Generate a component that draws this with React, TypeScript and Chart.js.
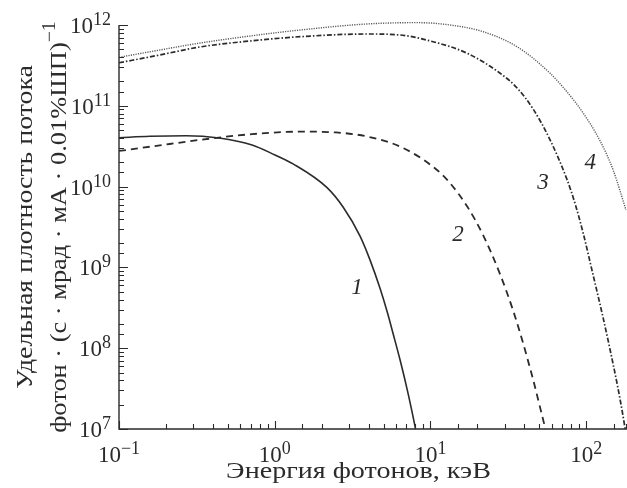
import { useEffect, useRef } from "react";
import { Chart, registerables } from "chart.js";

Chart.register(...registerables);

// Curve 1 (solid)
const energy1 = [0.1, 0.158, 0.27, 0.439, 0.715, 1.004, 1.311, 2.167, 2.746, 3.53, 4.094, 4.747, 5.265, 5.75, 6.38, 7.075, 7.62, 8.02];
const flux1 = [4.03e10, 4.19e10, 4.26e10, 3.99e10, 3.27e10, 2.46e10, 1.91e10, 9.7e9, 5.58e9, 2.44e9, 1.23e9, 5.47e8, 2.84e8, 1.52e8, 7.13e7, 3.12e7, 1.62e7, 1.0e7];

// Curve 2 (dashed)
const energy2 = [0.1, 0.163, 0.378, 0.715, 1.497, 2.476, 4.035, 6.57, 10.86, 13.37, 17.18, 21.77, 27.99, 33.93, 39.33, 45.6, 50.57, 54.7];
const flux2 = [2.76e10, 3.14e10, 3.91e10, 4.46e10, 4.79e10, 4.68e10, 4.12e10, 3.05e10, 1.64e10, 1.1e10, 5.7e9, 2.51e9, 8.2e8, 2.92e8, 1.15e8, 4.08e7, 1.84e7, 1.0e7];

// Curve 3 (dash-dot)
const energy3 = [0.1, 0.1834, 0.3313, 0.694, 1.454, 3.915, 6.38, 10.39, 17.18, 27.99, 35.99, 45.6, 58.65, 75.4, 84.9, 95.5, 110.7, 128.4, 142.4, 157.9, 170.1, 177.8];
const flux3 = [3.41e11, 4.26e11, 5.35e11, 6.34e11, 7.16e11, 7.74e11, 7.52e11, 6.21e11, 4.47e11, 2.53e11, 1.66e11, 9.12e10, 3.77e10, 1.21e10, 6.1e9, 2.67e9, 8.05e8, 2.37e8, 9.5e7, 3.61e7, 1.67e7, 1.0e7];

// Curve 4 (dotted)
const energy4 = [0.1, 0.1834, 0.3313, 0.694, 1.454, 3.915, 8.2, 13.37, 21.77, 35.99, 58.65, 75.4, 95.5, 122.8, 148.9, 180];
const flux4 = [3.98e11, 4.91e11, 5.98e11, 7.31e11, 8.67e11, 1.03e12, 1.07e12, 1.0e12, 8.26e11, 5.38e11, 2.52e11, 1.48e11, 8.15e10, 3.67e10, 1.6e10, 5.13e9];

// Curve number labels (data coordinates)
const curveLabels = ["1", "2", "3", "4"];
const curveLabelE = [3.38, 15.0, 52.8, 106];
const curveLabelF = [5.6e8, 2.5e9, 1.1e10, 1.95e10];

// Axis tick labels (powers of ten)
const xTickExponents = ["−1", "0", "1", "2"];
const xTickValues = [0.1, 1, 10, 100];
const yTickExponents = ["7", "8", "9", "10", "11", "12"];
const yTickValues = [1e7, 1e8, 1e9, 1e10, 1e11, 1e12];

const xTitle = "Энергия фотонов, кэВ";
const yTitleLine1 = "Удельная плотность потока";
const yTitleLine2 = "фотон · (с · мрад · мА · 0.01%ШП)";
const yTitleExp = "−1";

const X_MIN = 0.1;
const X_MAX = 180;
const Y_MIN = 1e7;
const Y_MAX = 1e12;

const SERIF = "'Liberation Serif', 'DejaVu Serif', serif";
const INK = "#2b2b2b";

function isPow10(v: number) {
  const l = Math.log10(v);
  return Math.abs(l - Math.round(l)) < 1e-6;
}

const drawPlugin = {
  id: "customAxes",
  beforeDraw(chart: any) {
    const { ctx, width, height } = chart;
    ctx.save();
    ctx.fillStyle = "#ffffff";
    ctx.fillRect(0, 0, width, height);
    ctx.restore();
  },
  afterDraw(chart: any) {
    const { ctx, chartArea: ca } = chart;
    const xs = chart.scales.x;
    const ys = chart.scales.y;
    ctx.save();
    ctx.strokeStyle = INK;
    ctx.lineWidth = 1.4;
    ctx.beginPath();
    ctx.moveTo(ca.left, ca.top);
    ctx.lineTo(ca.left, ca.bottom);
    ctx.lineTo(ca.right + 1, ca.bottom);
    ctx.stroke();

    ctx.lineWidth = 1.1;
    ctx.beginPath();
    xs.ticks.forEach((t: any) => {
      const px = xs.getPixelForValue(t.value);
      if (px < ca.left - 0.5 || px > ca.right + 0.5) return;
      const len = isPow10(t.value) ? 8 : 5;
      ctx.moveTo(Math.round(px) + 0.5, ca.bottom);
      ctx.lineTo(Math.round(px) + 0.5, ca.bottom - len);
    });
    ys.ticks.forEach((t: any) => {
      const py = ys.getPixelForValue(t.value);
      if (py < ca.top - 0.5 || py > ca.bottom + 0.5) return;
      const len = isPow10(t.value) ? 9 : 5;
      ctx.moveTo(ca.left, Math.round(py) + 0.5);
      ctx.lineTo(ca.left + len, Math.round(py) + 0.5);
    });
    ctx.stroke();

    ctx.fillStyle = INK;
    ctx.textBaseline = "alphabetic";
    ctx.textAlign = "left";
    const baseFont = `23px ${SERIF}`;
    const expFont = `18px ${SERIF}`;

    // x tick labels
    xTickValues.forEach((v, i) => {
      const px = xs.getPixelForValue(v);
      ctx.font = baseFont;
      const bw = ctx.measureText("10").width;
      ctx.font = expFont;
      const ew = ctx.measureText(xTickExponents[i]).width;
      const start = px - (bw + ew) / 2;
      const base = ca.bottom + 33;
      ctx.font = baseFont;
      ctx.fillText("10", start, base);
      ctx.font = expFont;
      ctx.fillText(xTickExponents[i], start + bw, base - 8);
    });

    // y tick labels
    yTickValues.forEach((v, i) => {
      const py = ys.getPixelForValue(v);
      ctx.font = baseFont;
      const bw = ctx.measureText("10").width;
      ctx.font = expFont;
      const ew = ctx.measureText(yTickExponents[i]).width;
      const end = ca.left - 8;
      const base = py + 8;
      ctx.font = baseFont;
      ctx.fillText("10", end - ew - bw, base);
      ctx.font = expFont;
      ctx.fillText(yTickExponents[i], end - ew, base - 8);
    });

    // x title (slightly widened glyphs)
    ctx.save();
    ctx.translate((ca.left + ca.right) / 2 - 14, ca.bottom + 49);
    ctx.scale(1.17, 1);
    ctx.font = `24px ${SERIF}`;
    ctx.textAlign = "center";
    ctx.fillText(xTitle, 0, 0);
    ctx.restore();

    // y title (rotated)
    const cy = (ca.top + ca.bottom) / 2;
    ctx.save();
    ctx.translate(32, cy);
    ctx.rotate(-Math.PI / 2);
    ctx.scale(1.16, 1);
    ctx.font = `24px ${SERIF}`;
    ctx.textAlign = "center";
    ctx.fillText(yTitleLine1, 0, 0);
    ctx.restore();

    ctx.save();
    ctx.translate(66, cy);
    ctx.rotate(-Math.PI / 2);
    ctx.scale(1.1, 1);
    ctx.font = `24px ${SERIF}`;
    const lw = ctx.measureText(yTitleLine2).width;
    ctx.font = `18px ${SERIF}`;
    const sw = ctx.measureText(yTitleExp).width;
    const st = -(lw + sw) / 2;
    ctx.textAlign = "left";
    ctx.font = `24px ${SERIF}`;
    ctx.fillText(yTitleLine2, st, 0);
    ctx.font = `18px ${SERIF}`;
    ctx.fillText(yTitleExp, st + lw, -11);
    ctx.restore();

    // curve labels
    ctx.font = `italic 23px ${SERIF}`;
    ctx.textAlign = "center";
    ctx.textBaseline = "middle";
    curveLabels.forEach((s, i) => {
      ctx.fillText(s, xs.getPixelForValue(curveLabelE[i]), ys.getPixelForValue(curveLabelF[i]));
    });
    ctx.restore();
  },
};

function toPoints(e: number[], f: number[]) {
  return e.map((x, i) => ({ x, y: f[i] }));
}

export default function App() {
  const ref = useRef<HTMLCanvasElement | null>(null);
  useEffect(() => {
    document.body.style.margin = "0";
    const canvas = ref.current;
    if (!canvas) return;
    const common = {
      pointRadius: 0,
      fill: false,
      clip: false as any,
      cubicInterpolationMode: "monotone" as const,
    };
    const chart = new Chart(canvas, {
      type: "line",
      data: {
        datasets: [
          { ...common, data: toPoints(energy1, flux1), borderColor: "#2b2b2b", borderWidth: 1.6 },
          { ...common, data: toPoints(energy2, flux2), borderColor: "#2b2b2b", borderWidth: 1.8, borderDash: [7, 5] },
          { ...common, data: toPoints(energy3, flux3), borderColor: "#2b2b2b", borderWidth: 1.7, borderDash: [5, 2, 1.5, 2] },
          { ...common, data: toPoints(energy4, flux4), borderColor: "#5a5a5a", borderWidth: 1.4, borderDash: [1.2, 1.2] },
        ],
      },
      options: {
        animation: false,
        responsive: false,
        devicePixelRatio: 1,
        layout: { padding: { left: 119, top: 25, right: 1, bottom: 59 } },
        plugins: { legend: { display: false }, tooltip: { enabled: false } },
        scales: {
          x: { type: "logarithmic", min: X_MIN, max: X_MAX, display: false, ticks: { autoSkip: false } },
          y: { type: "logarithmic", min: Y_MIN, max: Y_MAX, display: false, ticks: { autoSkip: false } },
        },
      },
      plugins: [drawPlugin],
    });
    return () => chart.destroy();
  }, []);
  return <canvas ref={ref} width={627} height={488} style={{ display: "block" }} />;
}
